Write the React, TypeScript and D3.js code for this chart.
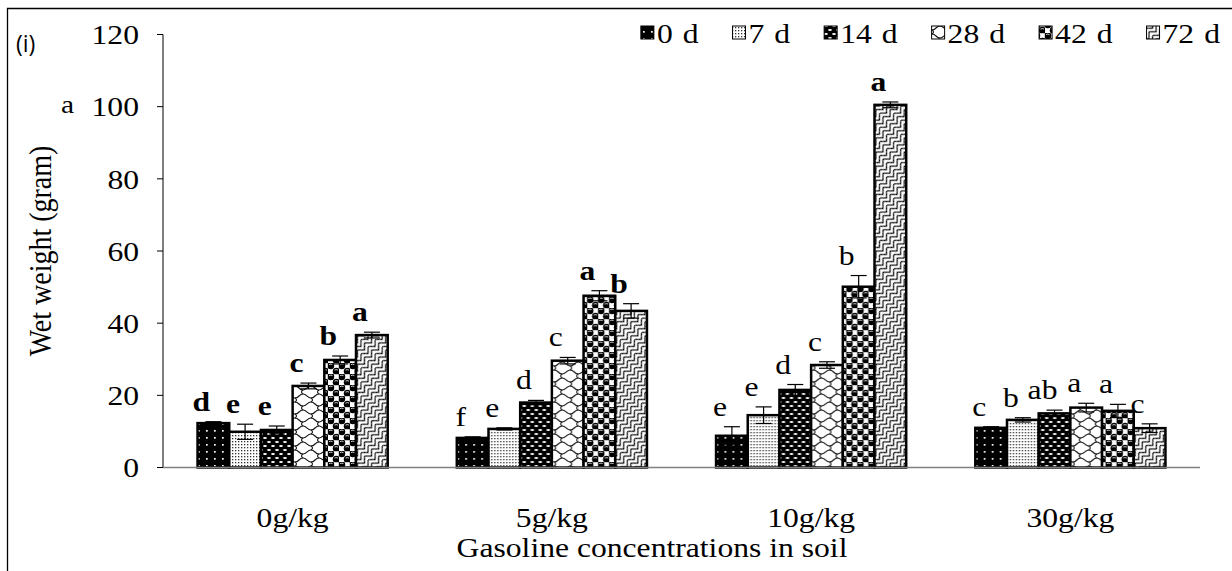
import React from 'react';
import * as d3 from 'd3';

const categories = ['0g/kg', '5g/kg', '10g/kg', '30g/kg'];
const seriesNames = ['0', '7', '14', '28', '42', '72'];
const unitLabel = 'd';

const d0 = [12.3, 8.2, 8.8, 11.0];
const d7 = [9.9, 10.7, 14.5, 13.2];
const d14 = [10.4, 18.0, 21.5, 15.0];
const d28 = [22.6, 29.6, 28.4, 16.6];
const d42 = [29.8, 47.6, 50.1, 15.7];
const d72 = [36.7, 43.4, 100.5, 10.9];

const e0 = [0.4, 0.3, 2.5, 0.3];
const e7 = [2.1, 0.3, 2.3, 0.6];
const e14 = [1.1, 0.6, 1.5, 0.9];
const e28 = [0.8, 0.9, 0.9, 1.2];
const e42 = [1.1, 1.4, 3.1, 1.8];
const e72 = [0.8, 2.0, 0.8, 1.2];

const l0 = ['d', 'f', 'e', 'c'];
const l7 = ['e', 'e', 'e', 'b'];
const l14 = ['e', 'd', 'd', 'ab'];
const l28 = ['c', 'c', 'c', 'a'];
const l42 = ['b', 'a', 'b', 'a'];
const l72 = ['a', 'b', 'a', 'c'];

const yTicks = [0, 20, 40, 60, 80, 100, 120];

const seriesValues = [d0, d7, d14, d28, d42, d72];
const seriesErrors = [e0, e7, e14, e28, e42, e72];
const seriesLetters = [l0, l7, l14, l28, l42, l72];
// letters printed in bold: [seriesIndex, categoryIndex]
const boldLetters = [[0, 0], [1, 0], [2, 0], [3, 0], [4, 0], [5, 0], [4, 1], [5, 1], [5, 2]];

const W = 1232;
const H = 571;
const FONT = '"Liberation Serif", "Times New Roman", serif';
const SX = 1.13; // horizontal stretch of the original picture's text

function T(props: {
  x: number;
  y: number;
  size: number;
  anchor?: string;
  weight?: string;
  dy?: string;
  family?: string;
  children: React.ReactNode;
}) {
  return (
    <text
      transform={`translate(${props.x},${props.y}) scale(${SX},1)`}
      textAnchor={props.anchor || 'start'}
      fontSize={props.size}
      fontWeight={props.weight || 'normal'}
      dy={props.dy}
      fontFamily={props.family || FONT}
    >
      {props.children}
    </text>
  );
}

function Patterns() {
  return (
    <defs>
      <pattern id="p0" width={8} height={7} patternUnits="userSpaceOnUse">
        <rect width={8} height={7} fill="#000" />
        <rect x={3} y={3} width={1.7} height={1.7} fill="#fff" />
      </pattern>
      <pattern id="p1" width={3} height={3} patternUnits="userSpaceOnUse">
        <rect width={3} height={3} fill="#fff" />
        <rect x={0} y={0} width={1.3} height={1.3} fill="#333" />
      </pattern>
      <pattern id="p2" width={8} height={8} patternUnits="userSpaceOnUse">
        <rect width={8} height={8} fill="#000" />
        <ellipse cx={2} cy={2} rx={1.9} ry={0.9} fill="#fff" />
        <ellipse cx={6} cy={6} rx={1.9} ry={0.9} fill="#fff" />
      </pattern>
      <pattern id="p3" width={16} height={16} patternUnits="userSpaceOnUse">
        <rect width={16} height={16} fill="#fff" />
        <g fill="none" stroke="#111" strokeWidth={1.1}>
          <path d="M0 4 Q4 0 8 4 Q12 8 16 4" />
          <path d="M0 12 Q4 16 8 12 Q12 8 16 12" />
          <path d="M12 6 Q9 8 12 10" />
          <path d="M4 14 Q7 16 4 18" />
          <path d="M4 -2 Q7 0 4 2" />
        </g>
      </pattern>
      <pattern id="p4" width={11} height={11} patternUnits="userSpaceOnUse">
        <rect width={11} height={11} fill="#fff" />
        <path d="M0 0 H11 V11" fill="none" stroke="#777" strokeWidth={0.8} />
        <circle cx={2.75} cy={2.75} r={3.5} fill="#000" />
        <circle cx={8.25} cy={8.25} r={3.5} fill="#000" />
        <path d="M1 1.6 Q2.75 0.6 4.5 1.6" stroke="#fff" strokeWidth={0.8} fill="none" />
        <path d="M6.5 7.1 Q8.25 6.1 10 7.1" stroke="#fff" strokeWidth={0.8} fill="none" />
      </pattern>
      <pattern id="p5" width={10} height={10} patternUnits="userSpaceOnUse" patternTransform="rotate(-45)">
        <rect width={10} height={10} fill="#fff" />
        <g fill="none" stroke="#000" strokeWidth={1.1}>
          <path d="M0 0 L5 5 L10 0" />
          <path d="M0 5 L5 10 L10 5" />
          <path d="M0 -5 L5 0 L10 -5" />
        </g>
      </pattern>
    </defs>
  );
}

export default function App() {
  const x0 = d3.scaleBand<string>().domain(categories).range([163, 1200]);
  const x1 = d3
    .scaleBand<string>()
    .domain(seriesNames)
    .range([0, x0.bandwidth()])
    .paddingOuter(1.09);
  const y = d3.scaleLinear().domain([0, 120]).range([467.5, 34.5]);

  const isBold = (s: number, c: number) => boldLetters.some(([a, b]) => a === s && b === c);

  // legend layout, right-aligned at x = 1220
  const lfs = 28;
  const sw = 13;
  const digitW = 0.5 * lfs * SX;
  const wordGap = 10;
  const itemGap = 34;
  const widths = seriesNames.map((n) => sw + 3 + n.length * digitW + wordGap + digitW);
  const total = widths.reduce((a, b) => a + b, 0) + itemGap * (seriesNames.length - 1);
  let cursor = 1220 - total;
  const legendX = widths.map((w) => {
    const xx = cursor;
    cursor += w + itemGap;
    return xx;
  });

  return (
    <svg
      width={W}
      height={H}
      style={{ position: 'absolute', left: 0, top: 0, display: 'block', background: '#fff' }}
      fontFamily={FONT}
    >
      <Patterns />
      <rect x={0} y={0} width={W} height={H} fill="#fff" />
      {/* outer frame */}
      <path d={`M7.5 ${H} V8.5 H${W}`} fill="none" stroke="#000" strokeWidth={1.3} />

      <text x={16} y={52} fontFamily='"Open Sans", "Liberation Sans", sans-serif' fontSize={23}>
        (i)
      </text>
      <T x={61} y={113} size={26}>
        a
      </T>

      {/* y axis */}
      <line x1={163} x2={163} y1={y(0)} y2={y(120)} stroke="#000" strokeWidth={1} />
      {yTicks.map((t) => (
        <g key={t}>
          <line x1={157} x2={163} y1={y(t)} y2={y(t)} stroke="#000" strokeWidth={1} />
          <T x={139} y={y(t)} dy="0.35em" anchor="end" size={28}>
            {t}
          </T>
        </g>
      ))}
      <text
        transform={`translate(51, ${(y(0) + y(120)) / 2}) rotate(-90) scale(1,${SX})`}
        textAnchor="middle"
        fontSize={28}
      >
        Wet weight (gram)
      </text>

      {/* bars */}
      {categories.map((cat, ci) => (
        <g key={cat} transform={`translate(${x0(cat)},0)`}>
          {seriesNames.map((s, si) => {
            const v = seriesValues[si][ci];
            const e = seriesErrors[si][ci];
            const bx = x1(s)!;
            const bw = x1.bandwidth();
            const cx = bx + bw / 2;
            return (
              <g key={s}>
                <rect
                  x={bx}
                  y={y(v)}
                  width={bw}
                  height={y(0) - y(v)}
                  fill={`url(#p${si})`}
                  stroke="#000"
                  strokeWidth={2.5}
                />
                <g stroke="#000" strokeWidth={1.2}>
                  <line x1={cx} x2={cx} y1={y(v - e)} y2={y(v + e)} />
                  <line x1={cx - 8} x2={cx + 8} y1={y(v + e)} y2={y(v + e)} />
                  <line x1={cx - 8} x2={cx + 8} y1={y(v - e)} y2={y(v - e)} />
                </g>
                <T
                  x={cx - 12}
                  y={y(v + e) - 11}
                  anchor="middle"
                  size={28}
                  weight={isBold(si, ci) ? 'bold' : 'normal'}
                >
                  {seriesLetters[si][ci]}
                </T>
              </g>
            );
          })}
        </g>
      ))}

      {/* x axis */}
      <line x1={163} x2={1200} y1={y(0)} y2={y(0)} stroke="#808080" strokeWidth={1.5} />
      {categories.map((cat) => (
        <T key={cat} x={x0(cat)! + x0.bandwidth() / 2} y={527} anchor="middle" size={28}>
          {cat}
        </T>
      ))}
      <T x={652} y={557} anchor="middle" size={28}>
        Gasoline concentrations in soil
      </T>

      {/* legend */}
      {seriesNames.map((s, si) => {
        const lx = legendX[si];
        const tx = lx + sw + 3;
        return (
          <g key={s}>
            <rect x={lx} y={26} width={sw} height={sw} fill={`url(#p${si})`} stroke="#000" strokeWidth={1} />
            <T x={tx} y={43} size={lfs}>
              {s}
            </T>
            <T x={tx + s.length * digitW + wordGap} y={43} size={lfs}>
              {unitLabel}
            </T>
          </g>
        );
      })}
    </svg>
  );
}
